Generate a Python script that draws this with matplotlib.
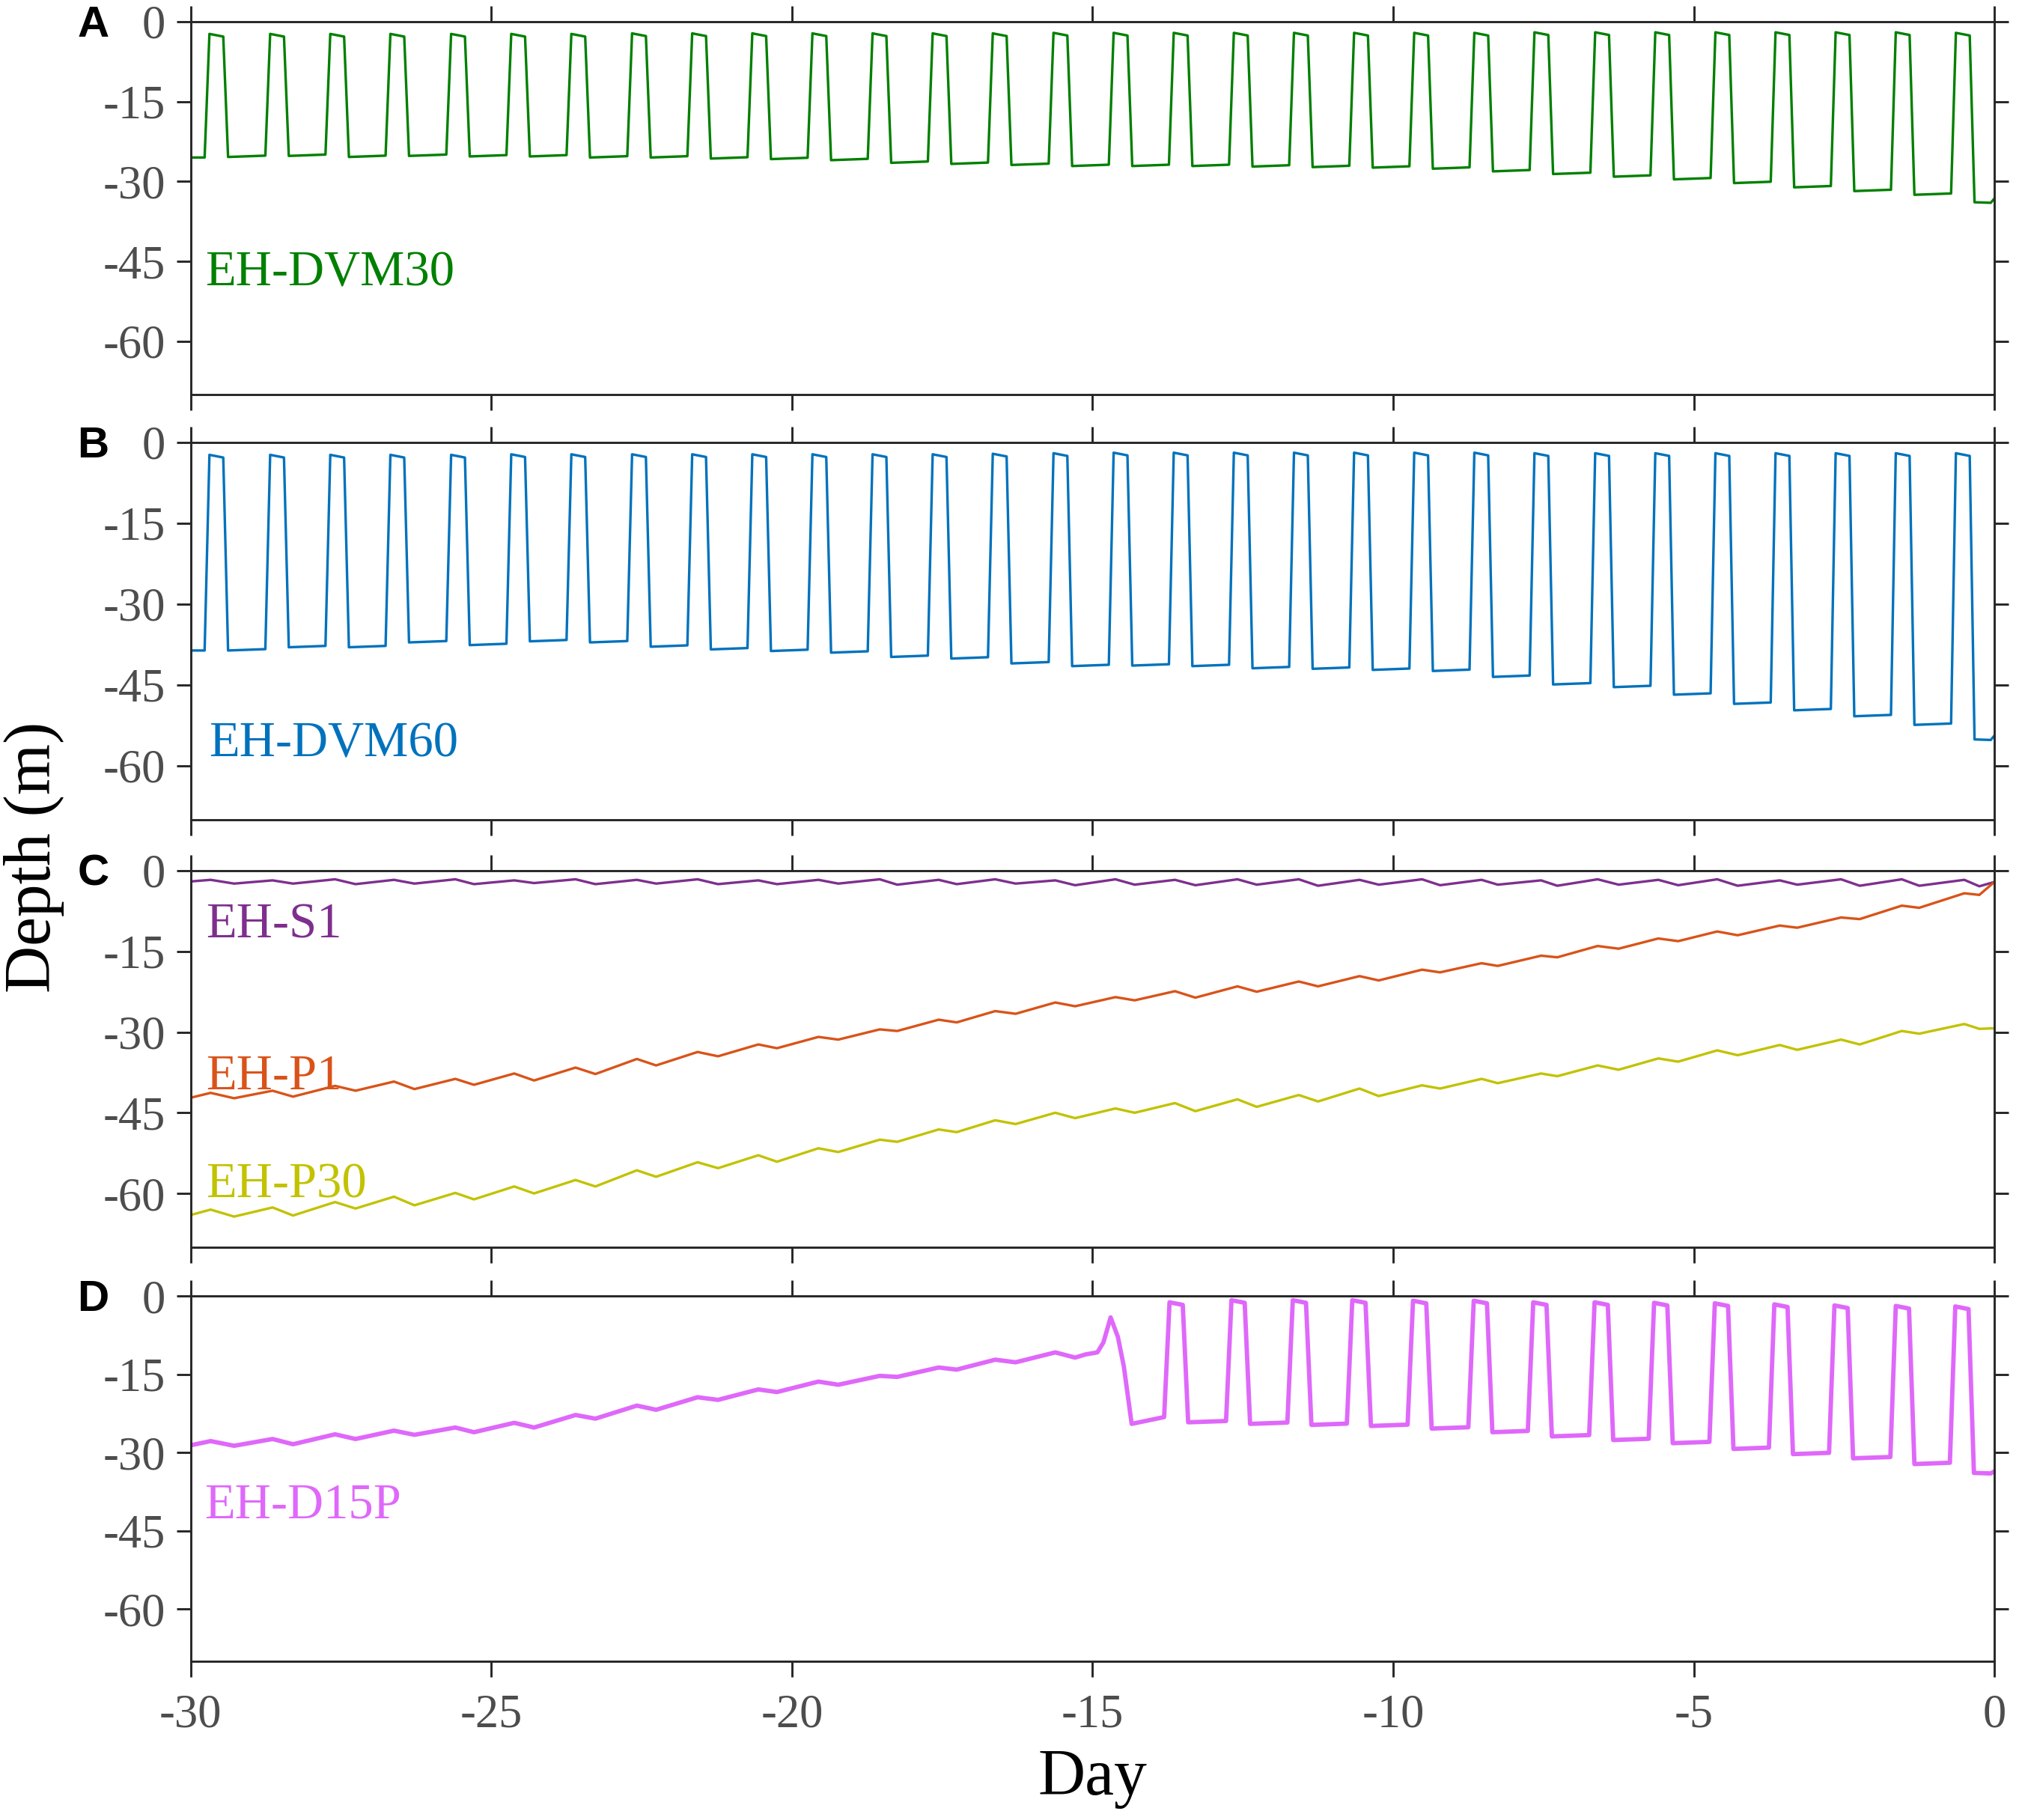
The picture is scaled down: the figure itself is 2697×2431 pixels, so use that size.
import matplotlib
matplotlib.use("Agg")
from matplotlib import pyplot as plt

# ---- data (depth in m, time in days) ----

# panels A and B: start day of each night-time ascent
dvm_rise = [-29.77, -28.76, -27.76, -26.76, -25.75, -24.75, -23.75, -22.74, -21.74, -20.74,
            -19.74, -18.74, -17.74, -16.74, -15.73, -14.73, -13.73, -12.73, -11.73, -10.73,
            -9.73, -8.73, -7.73, -6.72, -5.72, -4.72, -3.72, -2.72, -1.72, -0.72]

dvm30_top = [-2.3, -2.3, -2.3, -2.3, -2.3, -2.3, -2.3, -2.2, -2.2, -2.2,
             -2.2, -2.2, -2.2, -2.2, -2.1, -2.1, -2.1, -2.1, -2.1, -2.1,
             -2.1, -2.1, -2.0, -2.0, -2.0, -2.0, -2.0, -2.0, -2.0, -2.1]
dvm30_deep = [-25.4, -25.2, -25.4, -25.2, -25.3, -25.3, -25.5, -25.5, -25.7, -25.8,
              -26.0, -26.5, -26.7, -26.9, -27.1, -27.1, -27.1, -27.2, -27.3, -27.4,
              -27.6, -28.1, -28.6, -29.1, -29.6, -30.3, -31.1, -31.8, -32.5, -33.9]
dvm30_first = -25.5
dvm30_tail_day = [-0.06, 0.0]
dvm30_tail_depth = [-34.0, -33.2]

dvm60_top = [-2.3, -2.3, -2.3, -2.3, -2.3, -2.2, -2.2, -2.2, -2.2, -2.2,
             -2.2, -2.2, -2.2, -2.1, -2.0, -1.9, -1.9, -1.9, -1.9, -1.9,
             -1.9, -1.9, -2.0, -2.0, -2.0, -2.0, -2.0, -2.0, -2.0, -2.0]
dvm60_deep = [-38.6, -38.0, -38.0, -37.1, -37.6, -36.9, -37.1, -37.9, -38.4, -38.7,
              -39.0, -39.8, -40.1, -41.0, -41.5, -41.4, -41.5, -41.9, -42.0, -42.2,
              -42.4, -43.5, -44.9, -45.4, -46.8, -48.5, -49.7, -50.8, -52.4, -55.1]
dvm60_first = -38.6
dvm60_tail_day = [-0.06, 0.0]
dvm60_tail_depth = [-55.2, -54.4]

# panel C: tidal crests / troughs
tide_peak_day = [-29.67, -28.64, -27.60, -26.62, -25.60, -24.62, -23.60, -22.58, -21.57, -20.56,
                 -19.56, -18.54, -17.56, -16.62, -15.62, -14.62, -13.63, -12.59, -11.57, -10.56,
                 -9.52, -8.53, -7.54, -6.60, -5.59, -4.61, -3.57, -2.55, -1.54, -0.50]
tide_trough_day = [-29.28, -28.30, -27.26, -26.28, -25.29, -24.29, -23.27, -22.26, -21.23, -20.25,
                   -19.23, -18.25, -17.26, -16.28, -15.29, -14.30, -13.29, -12.27, -11.25, -10.24,
                   -9.22, -8.26, -7.27, -6.25, -5.26, -4.27, -3.28, -2.24, -1.25, -0.25]

s1_peak = [-1.7, -1.8, -1.6, -1.7, -1.6, -1.8, -1.6, -1.7, -1.6, -1.8,
           -1.7, -1.6, -1.7, -1.6, -1.8, -1.6, -1.7, -1.6, -1.6, -1.7,
           -1.6, -1.7, -1.8, -1.6, -1.7, -1.6, -1.8, -1.6, -1.6, -1.7]
s1_trough = [-2.4, -2.4, -2.5, -2.4, -2.5, -2.3, -2.5, -2.4, -2.5, -2.5,
             -2.4, -2.6, -2.5, -2.4, -2.7, -2.6, -2.7, -2.6, -2.8, -2.6,
             -2.7, -2.6, -2.8, -2.6, -2.7, -2.8, -2.6, -2.8, -2.8, -2.9]
s1_ends = [-2.0, -2.1]

p1_peak = [-41.3, -40.9, -40.0, -39.2, -38.7, -37.7, -36.6, -35.0, -33.7, -32.3,
           -30.9, -29.5, -27.7, -26.1, -24.5, -23.5, -22.4, -21.5, -20.6, -19.6,
           -18.4, -17.2, -15.8, -14.0, -12.6, -11.3, -10.2, -8.7, -6.5, -4.2]
p1_trough = [-42.3, -42.0, -40.9, -40.6, -39.8, -39.0, -37.8, -36.2, -34.5, -33.0,
             -31.4, -29.8, -28.2, -26.6, -25.2, -24.1, -23.6, -22.5, -21.5, -20.4,
             -18.9, -17.7, -16.1, -14.5, -13.1, -12.0, -10.6, -9.0, -6.9, -4.5]
p1_ends = [-42.2, -2.1]

p30_peak = [-63.0, -62.6, -61.6, -60.6, -59.9, -58.7, -57.5, -55.7, -54.2, -52.9,
            -51.6, -50.0, -48.1, -46.4, -45.0, -44.2, -43.2, -42.5, -41.7, -40.5,
            -39.9, -38.7, -37.7, -36.2, -34.9, -33.4, -32.4, -31.4, -29.8, -28.5]
p30_trough = [-64.3, -64.1, -62.8, -62.2, -61.1, -60.0, -58.7, -56.9, -55.3, -54.1,
              -52.3, -50.4, -48.6, -47.1, -46.0, -45.0, -44.7, -43.9, -42.9, -41.9,
              -40.5, -39.5, -38.2, -37.0, -35.5, -34.3, -33.3, -32.3, -30.3, -29.4]
p30_ends = [-64.0, -29.3]

# panel D: passive drift for 15 days, then DVM after release
d15p_peak = [-27.8, -27.4, -26.5, -25.8, -25.2, -24.3, -22.8, -21.0, -19.4, -17.9,
             -16.4, -15.3, -13.7, -12.2, -10.8]
d15p_trough = [-28.7, -28.4, -27.4, -26.6, -26.1, -25.2, -23.5, -21.8, -19.9, -18.4,
               -17.0, -15.5, -14.1, -12.7, -11.8]
d15p_start = -28.6
d15p_switch_day = [-15.12, -14.92, -14.82, -14.70, -14.58, -14.48, -14.35]
d15p_switch_depth = [-11.2, -10.8, -8.9, -4.1, -7.8, -13.5, -24.5]
d15p_rise = [-13.81, -12.78, -11.76, -10.77, -9.76, -8.75, -7.76, -6.74, -5.75, -4.74,
             -3.75, -2.75, -1.73, -0.74]
d15p_top = [-1.2, -0.8, -0.8, -0.8, -0.9, -0.9, -1.2, -1.2, -1.3, -1.4,
            -1.6, -1.8, -1.9, -2.0]
d15p_deep = [-24.2, -24.5, -24.7, -24.9, -25.4, -26.1, -26.9, -27.6, -28.2, -29.3,
             -30.3, -31.1, -32.2, -33.9]
d15p_tail_day = [-0.06, 0.0]
d15p_tail_depth = [-34.0, -33.6]

x_ticks = [-30, -25, -20, -15, -10, -5, 0]
y_ticks = [-60, -45, -30, -15, 0]


def dvm_trace(rise, top, deep, first_level, up=0.08, hold=0.23, down=0.08, tilt=0.25, sag=0.5):
    xs, ys = [], []
    level = first_level
    for t, tp, dp in zip(rise, top, deep):
        xs += [t, t + up, t + up + hold, t + up + hold + down]
        ys += [level, tp, tp - sag, dp]
        level = dp + tilt
    return xs, ys


def tide_trace(peaks, troughs, days_p, days_t):
    xs, ys = [], []
    for dp, vp, dt, vt in zip(days_p, peaks, days_t, troughs):
        xs += [dp, dt]
        ys += [vp, vt]
    return xs, ys


serif = "Liberation Serif"
plt.rcParams["font.family"] = serif

fig = plt.figure(figsize=(2697 / 300, 2431 / 300), dpi=300)
left, width = 0.0945, 0.8933
boxes = [(0.7832, 0.9881), (0.5496, 0.7569), (0.3147, 0.5216), (0.0872, 0.2879)]
axes = [fig.add_axes([left, b, width, t - b]) for b, t in boxes]

lw = 0.8
# A
xa, ya = dvm_trace(dvm_rise, dvm30_top, dvm30_deep, dvm30_first)
axes[0].plot([-30] + xa + dvm30_tail_day, [dvm30_first] + ya + dvm30_tail_depth,
             color="#008000", lw=lw)
axes[0].text(-29.76, -49.5, "EH-DVM30", color="#008000", fontsize=16)

# B
xb, yb = dvm_trace(dvm_rise, dvm60_top, dvm60_deep, dvm60_first)
axes[1].plot([-30] + xb + dvm60_tail_day, [dvm60_first] + yb + dvm60_tail_depth,
             color="#0072BD", lw=lw)
axes[1].text(-29.70, -58.3, "EH-DVM60", color="#0072BD", fontsize=16)

# C
for peaks, troughs, ends, color, name, ty in [
        (s1_peak, s1_trough, s1_ends, "#7E2F8E", "EH-S1", -12.5),
        (p1_peak, p1_trough, p1_ends, "#D95319", "EH-P1", -40.6),
        (p30_peak, p30_trough, p30_ends, "#C2C200", "EH-P30", -60.8)]:
    xc, yc = tide_trace(peaks, troughs, tide_peak_day, tide_trough_day)
    axes[2].plot([-30] + xc + [0], [ends[0]] + yc + [ends[1]], color=color, lw=lw)
    axes[2].text(-29.75, ty, name, color=color, fontsize=16)

# D
xd1, yd1 = tide_trace(d15p_peak, d15p_trough, tide_peak_day, tide_trough_day)
xd2, yd2 = dvm_trace(d15p_rise, d15p_top, d15p_deep, -23.2, up=0.09, hold=0.22, down=0.09)
axes[3].plot([-30] + xd1 + d15p_switch_day + xd2 + d15p_tail_day,
             [d15p_start] + yd1 + d15p_switch_depth + yd2 + d15p_tail_depth,
             color="#DF68FA", lw=1.4)
axes[3].text(-29.77, -42.5, "EH-D15P", color="#DF68FA", fontsize=16)

for i, ax in enumerate(axes):
    ax.set_xlim(-30, 0)
    ax.set_ylim(-70, 0)
    ax.set_xticks(x_ticks)
    ax.set_yticks(y_ticks)
    ax.set_yticklabels([str(v) for v in y_ticks])
    for sp in ax.spines.values():
        sp.set_color("#262626")
        sp.set_linewidth(0.7)
    ax.tick_params(axis="both", direction="out", top=True, right=True,
                   color="#262626", width=0.7, labelcolor="#4d4d4d", labelsize=15)
    ax.tick_params(axis="x", length=5.0, pad=5.5)
    ax.tick_params(axis="y", length=4.6, pad=3.5)
    if i < 3:
        ax.tick_params(axis="x", labelbottom=False)
    else:
        ax.set_xticklabels([str(v) for v in x_ticks])

for (b, t), letter in zip(boxes, "ABCD"):
    fig.text(0.0462, t - 0.002, letter, fontsize=14, fontweight="bold",
             family="Liberation Sans", ha="center", va="center")

fig.text(0.0167, 0.529, "Depth (m)", rotation=90, fontsize=21, ha="center", va="center")
fig.text(0.541, 0.023, "Day", fontsize=21, ha="center", va="center")

fig.savefig("out.png", dpi=300)
